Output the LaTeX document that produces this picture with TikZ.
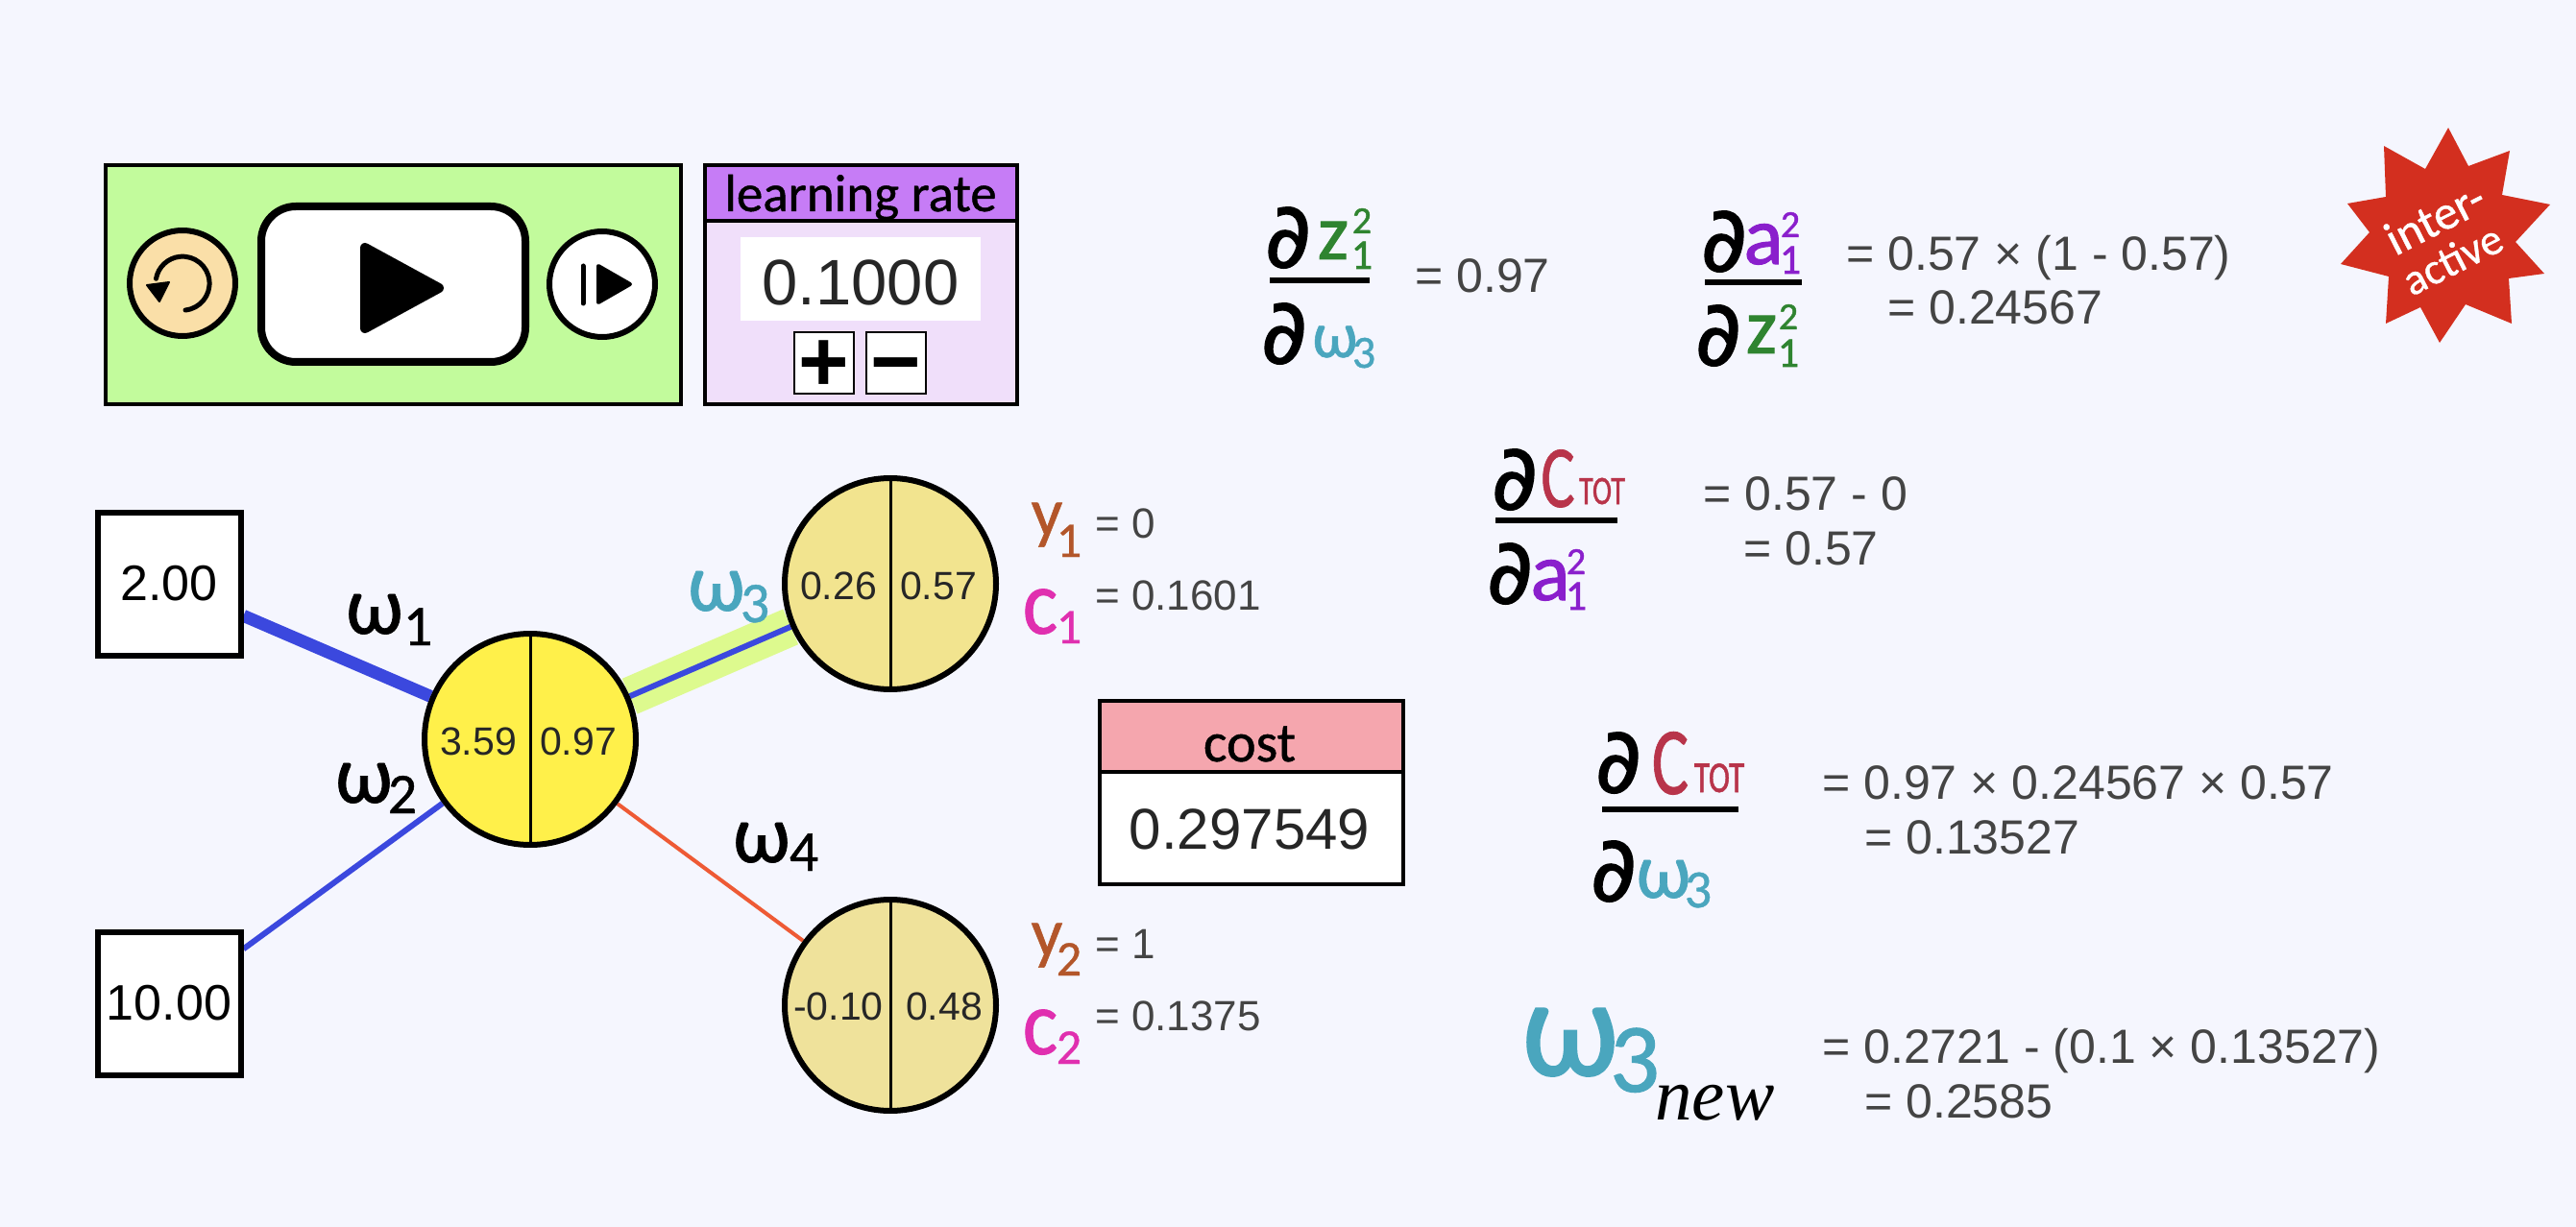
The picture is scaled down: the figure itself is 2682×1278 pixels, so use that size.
\documentclass[tikz,border=0pt]{standalone}
\usepackage{fontspec}
\usepackage{amsmath}
\setmainfont{Liberation Sans}
\newfontfamily\handf[FakeBold=1.2]{Carlito}
\newfontfamily\handl[FakeBold=0.8]{Carlito}
\newfontfamily\partf[FakeBold=1.5]{DejaVu Sans}
\newfontfamily\serifi[ItalicFont={Liberation Serif Italic}]{Liberation Serif}
\usetikzlibrary{backgrounds}
\definecolor{pagebg}{HTML}{F5F6FE}
\definecolor{panelgreen}{HTML}{C2FB9C}
\definecolor{resetfill}{HTML}{FADFA8}
\definecolor{lrhead}{HTML}{C67CF6}
\definecolor{lrbody}{HTML}{F0DFFA}
\definecolor{costhead}{HTML}{F5A6AE}
\definecolor{hidfill}{HTML}{FFF04A}
\definecolor{outA}{HTML}{F2E48F}
\definecolor{outB}{HTML}{EFE29B}
\definecolor{wblue}{HTML}{3B48DE}
\definecolor{wred}{HTML}{EE5A35}
\definecolor{wband}{HTML}{DDFA8E}
\definecolor{teal}{HTML}{4AA6BE}
\definecolor{zgreen}{HTML}{2F8430}
\definecolor{apurple}{HTML}{8A1FCC}
\definecolor{cred}{HTML}{B8344A}
\definecolor{ybrown}{HTML}{B3562A}
\definecolor{cpink}{HTML}{E02FAF}
\definecolor{stargrey}{HTML}{D32F1F}
\definecolor{eqgrey}{HTML}{444444}
\newcommand{\hs}[1]{\fontsize{#1}{#1}\handf}
\newcommand{\hl}[1]{\fontsize{#1}{#1}\handl}
\newcommand{\as}[1]{\fontsize{#1}{#1}\selectfont}
\newcommand{\boxtext}[1]{\raisebox{-1.5pt}{#1}}
\tikzset{
  inbox/.style={draw=black,fill=white,line width=3pt,rectangle,minimum width=74.5pt,minimum height=74.5pt,inner sep=0pt,font=\as{26}},
  neuron/.style={draw=black,line width=3pt,circle,minimum size=110pt,inner sep=0pt},
  val/.style={inner sep=0pt,font=\as{20.5},text=black!85},
  conn/.style={line cap=butt},
  eq/.style={inner sep=0pt,anchor=base west,text=eqgrey,font=\as{25}},
  sm/.style={inner sep=0pt,anchor=base west,text=eqgrey,font=\as{22}},
  hw/.style={inner sep=0pt,anchor=base},
  part/.style={inner sep=0pt,anchor=base,font=\fontsize{47}{47}\partf},
  bar/.style={line width=3pt,black},
  panel/.style={line width=2pt,draw=black},
  btn/.style={draw=black,line width=3pt,circle,minimum size=55pt,inner sep=0pt},
  pmbox/.style={draw=black,fill=white,line width=1pt,minimum width=31pt,minimum height=32pt,inner sep=0pt,text height=30pt,text depth=0pt,font={\bfseries\as{45}}},
}
\begin{document}
\begin{tikzpicture}[x=0.5pt,y=-0.5pt]
\useasboundingbox (0,0) rectangle (2682,1278);
\begin{scope}[on background layer]
\fill[pagebg] (0,0) rectangle (2682,1278);
\end{scope}
% control panel
\draw[panel,fill=panelgreen] (110,172) rectangle (709,421);
\node[btn,fill=resetfill] (reset) at (190,295) {};
\draw[line width=2.5pt,line cap=round] (193,323) arc[start angle=84,end angle=-170,radius=28];
\fill[line join=round,draw=black,line width=1pt] (153,297) -- (176,294) -- (166,314) -- cycle;
\draw[line width=4pt,fill=white,rounded corners=18pt] (272,215) rectangle (547,377);
\fill[black,draw=black,line width=5pt,line join=round] (380,258) -- (457,300) -- (380,342) -- cycle;
\node[btn,fill=white] (stepb) at (627,296) {};
\draw[line width=2.5pt,line cap=round] (607,277) -- (607,316);
\fill[draw=black,line width=2pt,line join=round] (623,277) -- (656,296) -- (623,315) -- cycle;
% learning rate
\draw[panel,fill=lrbody] (734,172) rectangle (1059,421);
\draw[panel,fill=lrhead] (734,172) rectangle (1059,230);
\node[hw,font=\hl{27.5}] (lrlabel) at (896,220) {learning rate};
\fill[white] (771,247) rectangle (1021,334);
\node[inner sep=0pt,font=\as{33.5},text=black!85] (lrval) at (896,294) {0.1000};
\node[pmbox] (plusb) at (858,378) {+};
\node[pmbox] (minusb) at (933,378) {−};
% network
\node[inbox] (inA) at (176,608) {\boxtext{2.00}};
\node[inbox] (inB) at (176,1045) {\boxtext{10.00}};
\node[neuron,fill=hidfill] (hid) at (552,770) {};
\node[neuron,fill=outA] (outone) at (927,608) {};
\node[neuron,fill=outB] (outtwo) at (927,1047) {};
\begin{scope}[on background layer]
\draw[conn,wblue,line width=6.5pt] (inA) -- (hid);
\draw[conn,wblue,line width=3pt] (inB) -- (hid);
\draw[conn,wband,line width=20pt] (hid) -- (outone);
\draw[conn,wblue,line width=3pt] (hid) -- (outone);
\draw[conn,wred,line width=2pt] (hid) -- (outtwo);
\end{scope}
\draw[line width=1.5pt] (hid.north) -- (hid.south);
\draw[line width=1.5pt] (outone.north) -- (outone.south);
\draw[line width=1.5pt] (outtwo.north) -- (outtwo.south);
\node[val] (hidL) at (498,772) {3.59};
\node[val] (hidR) at (602,772) {0.97};
\node[val] (oneL) at (873,610) {0.26};
\node[val] (oneR) at (977,610) {0.57};
\node[val] (twoL) at (873,1048) {-0.10};
\node[val] (twoR) at (983,1048) {0.48};
% weight labels
\node[hw,font=\hl{43}] (wone) at (390,660) {ω};
\node[hw,font=\hl{30}] (woneS) at (435,672) {1};
\node[hw,font=\hl{43}] (wtwo) at (379,836) {ω};
\node[hw,font=\hl{30}] (wtwoS) at (419,847) {2};
\node[hw,font=\hl{43},text=teal] (wthree) at (746,636) {ω};
\node[hw,font=\hl{30},text=teal] (wthreeS) at (786,648) {3};
\node[hw,font=\hl{43}] (wfour) at (793,898) {ω};
\node[hw,font=\hl{30}] (wfourS) at (837,907) {4};
% outputs
\node[hw,font=\hl{36},text=ybrown] (yone) at (1090,558) {y};
\node[hw,font=\hl{26},text=ybrown] (yoneS) at (1113,580) {1};
\node[sm] (yoneV) at (1140,560) {= 0};
\node[hw,font=\hl{48},xscale=0.9,text=cpink] (cone) at (1083,660) {c};
\node[hw,font=\hl{26},text=cpink] (coneS) at (1113,670) {1};
\node[sm] (coneV) at (1140,635) {= 0.1601};
\node[hw,font=\hl{36},text=ybrown] (ytwo) at (1090,996) {y};
\node[hw,font=\hl{26},text=ybrown] (ytwoS) at (1113,1016) {2};
\node[sm] (ytwoV) at (1140,998) {= 1};
\node[hw,font=\hl{48},xscale=0.9,text=cpink] (ctwo) at (1083,1098) {c};
\node[hw,font=\hl{26},text=cpink] (ctwoS) at (1113,1108) {2};
\node[sm] (ctwoV) at (1140,1073) {= 0.1375};
% cost
\draw[panel,fill=white] (1145,730) rectangle (1461,921);
\draw[panel,fill=costhead] (1145,730) rectangle (1461,804);
\node[hw,font=\hl{29}] (costl) at (1301,793) {cost};
\node[hw,font=\as{30},text=black!85] (costv) at (1301,884) {0.297549};
% fraction 1
\node[part] (pa) at (1341,278) {∂};
\node[hw,font=\hs{41},text=zgreen] (za) at (1388,270) {z};
\node[hw,font=\hs{20},text=zgreen] (zaT) at (1418,243) {2};
\node[hw,font=\hs{22},text=zgreen] (zaS) at (1418,280) {1};
\draw[bar] (1322,292) -- (1426,292);
\node[part] (pb) at (1337,378) {∂};
\node[hw,font=\hl{34},text=teal] (wa) at (1390,372) {ω};
\node[hw,font=\hl{24},text=teal] (waS) at (1420,383) {3};
\node[eq] (eqa) at (1473,305) {= 0.97};
% fraction 2
\node[part] (pc) at (1795,282) {∂};
\node[hw,font=\hs{43},text=apurple] (ab) at (1836,275) {a};
\node[hw,font=\hs{20},text=apurple] (abT) at (1864,247) {2};
\node[hw,font=\hs{22},text=apurple] (abS) at (1864,285) {1};
\draw[bar] (1775,294) -- (1876,294);
\node[part] (pd) at (1789,380) {∂};
\node[hw,font=\hs{41},text=zgreen] (zb) at (1834,368) {z};
\node[hw,font=\hs{20},text=zgreen] (zbT) at (1862,343) {2};
\node[hw,font=\hs{22},text=zgreen] (zbS) at (1862,382) {1};
\node[eq] (eqb) at (1922,282) {= 0.57 × (1 - 0.57)};
\node[eq] (eqc) at (1965,338) {= 0.24567};
% fraction 3
\node[part] (pe) at (1577,530) {∂};
\node[hw,font=\hl{46},xscale=0.72,text=cred] (cc) at (1622,528) {C};
\node[hw,font=\hs{21},xscale=0.72,text=cred] (ccS) at (1668,525) {TOT};
\draw[bar] (1557,542) -- (1684,542);
\node[part] (pf) at (1572,628) {∂};
\node[hw,font=\hs{43},text=apurple] (ac) at (1614,625) {a};
\node[hw,font=\hs{20},text=apurple] (acT) at (1641,598) {2};
\node[hw,font=\hs{22},text=apurple] (acS) at (1641,635) {1};
\node[eq] (eqd) at (1773,531) {= 0.57 - 0};
\node[eq] (eqe) at (1815,588) {= 0.57};
% fraction 4
\node[part] (pg) at (1685,825) {∂};
\node[hw,font=\hl{50},xscale=0.72,text=cred] (cd) at (1739,827) {C};
\node[hw,font=\hs{23},xscale=0.72,text=cred] (cdS) at (1790,825) {TOT};
\draw[bar] (1668,843) -- (1810,843);
\node[part] (ph) at (1680,938) {∂};
\node[hw,font=\hl{41},text=teal] (wd) at (1732,935) {ω};
\node[hw,font=\hl{28},text=teal] (wdS) at (1768,945) {3};
\node[eq] (eqf) at (1897,832) {= 0.97 × 0.24567 × 0.57};
\node[eq] (eqg) at (1941,889) {= 0.13527};
% update
\node[hw,font=\hs{73},text=teal] (we) at (1635,1120) {ω};
\node[hw,font=\hs{51},text=teal] (weS) at (1702,1137) {3};
\node[inner sep=0pt,anchor=base west,font={\serifi\itshape\as{38.5}}] (newl) at (1723,1166) {new};
\node[eq] (eqh) at (1897,1107) {= 0.2721 - (0.1 × 0.13527)};
\node[eq] (eqi) at (1941,1164) {= 0.2585};
% burst
\fill[stargrey] (2549,133) -- (2570,173) -- (2613,157) -- (2605,203) -- (2655,213) -- (2619,252) -- (2649,285) -- (2612,290) -- (2615,337) -- (2567,317) -- (2540,357) -- (2520,320) -- (2484,337) -- (2487,288) -- (2437,275) -- (2467,242) -- (2444,212) -- (2484,205) -- (2482,152) -- (2525,176) -- cycle;
\node[inner sep=0pt,rotate=27,text=white,font=\hl{25}] (burstA) at (2535,227) {inter-};
\node[inner sep=0pt,rotate=27,text=white,font=\hl{23}] (burstB) at (2553,270) {active};
\end{tikzpicture}
\end{document}
